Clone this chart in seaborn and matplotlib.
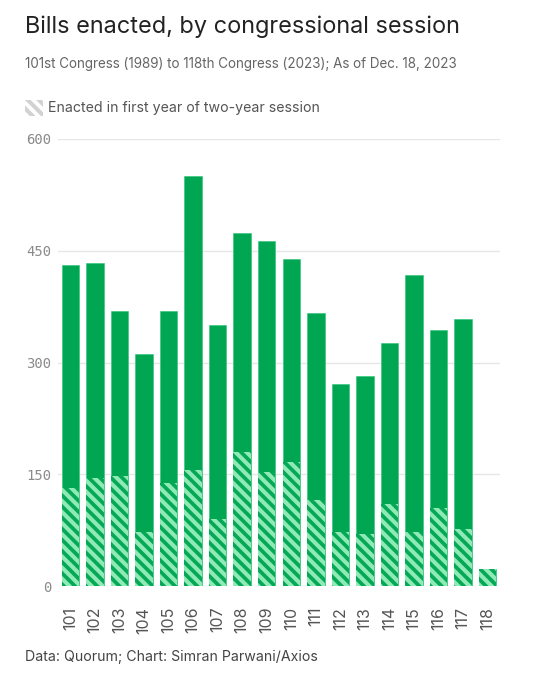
import pandas as pd
import numpy as np
import matplotlib
matplotlib.use('Agg')
import matplotlib.pyplot as plt
import matplotlib.patches as mpatches
import seaborn as sns

# ================================
# DATA
# ================================
sessions = ['101', '102', '103', '104', '105', '106', '107', '108', '109',
            '110', '111', '112', '113', '114', '115', '116', '117', '118']
total_enacted = [431, 434, 369, 311, 369, 550, 350, 474, 463,
                 439, 366, 271, 282, 326, 417, 344, 358, 23]
first_year = [132, 145, 148, 73, 138, 156, 90, 180, 153,
              166, 115, 73, 70, 110, 73, 105, 76, 23]

df = pd.DataFrame({'session': sessions,
                   'total': total_enacted,
                   'first': first_year})

GREEN = '#00a651'
HATCH_GREEN = '#05a955'
LIGHT_GREEN = '#90eab8'

# ================================
# STYLE
# ================================
sns.set_style('white')
plt.rcParams['font.family'] = ['Inter', 'DejaVu Sans']
plt.rcParams['hatch.linewidth'] = 2.7
plt.rcParams['hatch.color'] = HATCH_GREEN

fig = plt.figure(figsize=(5.42, 6.80), dpi=100)
ax = fig.add_axes([58 / 542, 94 / 680, 442 / 542, 447 / 680])

# ================================
# BARS
# ================================
sns.barplot(data=df, x='session', y='total', color=GREEN, width=0.71,
            saturation=1, ax=ax, edgecolor='#2cc477', linewidth=0.4)
n_solid = len(ax.patches)
sns.barplot(data=df, x='session', y='first', color=LIGHT_GREEN, width=0.71,
            saturation=1, ax=ax, linewidth=0)
for p in ax.patches[n_solid:]:
    p.set_hatch('\\\\\\')
    p.set_edgecolor(HATCH_GREEN)
    p.set_linewidth(0)
    if hasattr(p, 'set_hatch_linewidth'):
        p.set_hatch_linewidth(2.7)

# ================================
# AXES
# ================================
ax.set_xlim(-0.5, len(sessions) - 0.5)
ax.set_ylim(0, 600)
ax.set_yticks([0, 150, 300, 450, 600])
ax.set_yticklabels(['0', '150', '300', '450', '600'],
                   fontfamily='DejaVu Sans Mono', fontsize=10, color='#8a8a8a')
ax.yaxis.grid(True, color='#e6e6e6', linewidth=1)
ax.set_axisbelow(True)
ax.tick_params(axis='y', length=0, pad=5)
ax.tick_params(axis='x', length=7, color='#e0e0e0', width=1, pad=8,
               labelsize=11.5, labelcolor='#555555', labelrotation=90)
for s in ax.spines.values():
    s.set_visible(False)
ax.set_xlabel('')
ax.set_ylabel('')

# ================================
# TEXT
# ================================
fig.text(25 / 542, 1 - 33 / 680, 'Bills enacted, by congressional session',
         fontsize=16.9, color='#222222', va='baseline')
fig.text(25 / 542, 1 - 68 / 680,
         '101st Congress (1989) to 118th Congress (2023); As of Dec. 18, 2023',
         fontsize=9.7, color='#666666', va='baseline')

lax = fig.add_axes([25 / 542, 1 - 116 / 680, 18 / 542, 16 / 680])
lax.add_patch(mpatches.Rectangle((0, 0), 1, 1, facecolor='#d2d2d2',
                                 edgecolor='white', hatch='\\\\\\', linewidth=0))
lax.set_xlim(0, 1)
lax.set_ylim(0, 1)
lax.axis('off')
fig.text(48 / 542, 1 - 112 / 680, 'Enacted in first year of two-year session',
         fontsize=10.2, color='#555555', va='baseline')

fig.text(25 / 542, 1 - 661 / 680, 'Data: Quorum; Chart: Simran Parwani/Axios',
         fontsize=10.2, color='#444444', va='baseline')

plt.savefig('out.png', dpi=100)
print("✅ Chart saved!")
